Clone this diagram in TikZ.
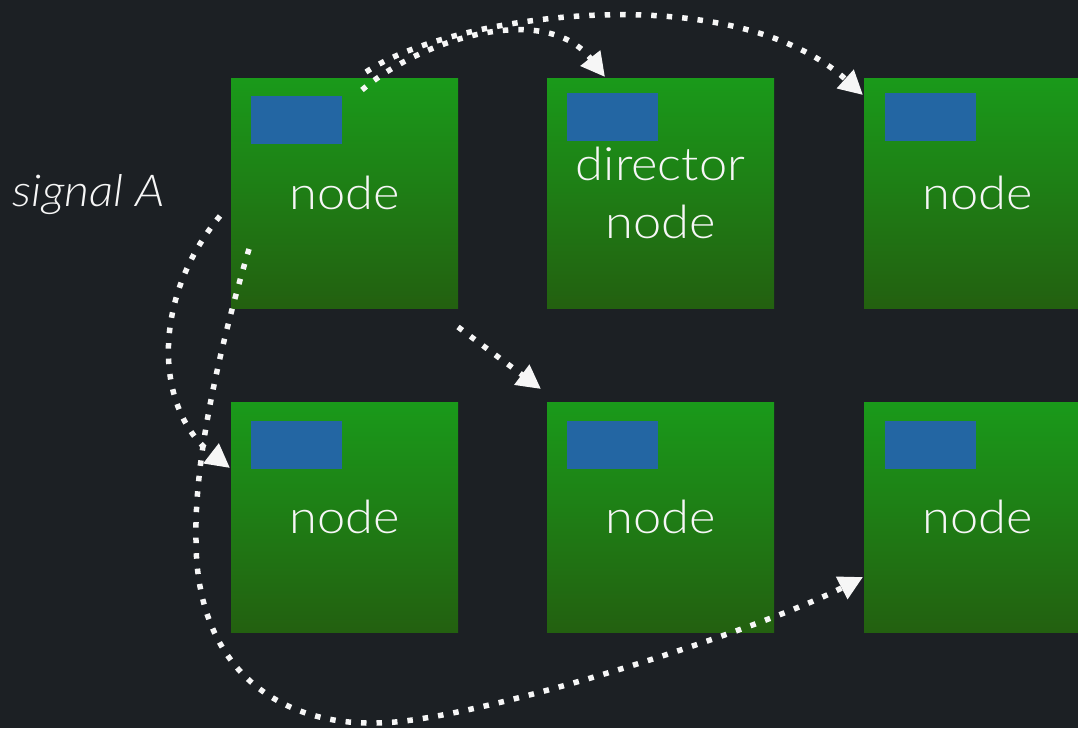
\documentclass[tikz,border=0pt]{standalone}
\usepackage{fontspec}
\setmainfont{Lato Light}[ItalicFont={Lato Light Italic}, FakeStretch=1.1]
\usetikzlibrary{arrows.meta,calc}

\definecolor{bgdark}{RGB}{28,32,36}
\definecolor{greentop}{RGB}{26,154,26}
\definecolor{greenbot}{RGB}{35,96,16}
\definecolor{chipblue}{RGB}{35,102,163}
\definecolor{labelwhite}{RGB}{246,246,246}

\tikzset{
  cluster/.style={rectangle, inner sep=0pt, minimum width=227pt, minimum height=230pt,
    top color=greentop, bottom color=greenbot, text=labelwhite, align=center,
    font=\fontsize{46}{58}\selectfont},
  chip/.style={rectangle, inner sep=0pt, minimum width=91pt, minimum height=48pt,
    fill=chipblue, anchor=north west},
  signal/.style={draw=labelwhite, line width=5.5pt, line cap=butt,
    dash pattern=on 5.5pt off 10pt,
    -{Triangle[length=24pt,width=24pt]}},
}

\begin{document}
\begin{tikzpicture}[x=1pt,y=-1pt]
  % canvas
  \fill[bgdark] (0,0) rectangle (1078,728);
  \useasboundingbox (0,0) rectangle (1078,728);
  \clip (0,0) rectangle (1078,728);

  % cluster members
  \node[cluster] (n1) at (344.5,193) {node};
  \node[cluster] (n2) at (660.5,193) {director\\node};
  \node[cluster] (n3) at (977.5,193) {node};
  \node[cluster] (n4) at (344.5,517) {node};
  \node[cluster] (n5) at (660.5,517) {node};
  \node[cluster] (n6) at (977.5,517) {node};

  % status chips
  \node[chip] (c1) at ($(n1.north west)+(20,18)$) {};
  \node[chip] (c2) at ($(n2.north west)+(20,15)$) {};
  \node[chip] (c3) at ($(n3.north west)+(21,15)$) {};
  \node[chip] (c4) at ($(n4.north west)+(20,19)$) {};
  \node[chip] (c5) at ($(n5.north west)+(20,19)$) {};
  \node[chip] (c6) at ($(n6.north west)+(21,19)$) {};

  % label
  \node[text=labelwhite, font=\fontsize{44}{52}\selectfont\itshape] (sig) at (89,195) {signal A};

  % connector end points
  \coordinate (a0) at (362,90);
  \coordinate (a1) at (605,77);
  \coordinate (b0) at (366,72);
  \coordinate (b1) at (863,95);
  \coordinate (cc0) at (458,327);
  \coordinate (cc1) at (541,389);
  \coordinate (d0) at (220,216);
  \coordinate (d1) at (230,468);
  \coordinate (e0) at (249,249);
  \coordinate (e1) at (863,577);

  % messages
  \draw[signal] (a0) .. controls (420,40) and (545,0) .. (a1);
  \draw[signal] (b0) .. controls (450,15) and (730,-25) .. (b1);
  \draw[signal] (cc0) -- (cc1);
  \draw[signal] (d0) .. controls (150,300) and (155,410) .. (d1);
  \draw[signal] (e0) .. controls (225,330) and (194,450) .. (196,540)
                     .. controls (196,670) and (280,725) .. (376,723)
                     .. controls (470,723) and (760,630) .. (e1);
\end{tikzpicture}
\end{document}
